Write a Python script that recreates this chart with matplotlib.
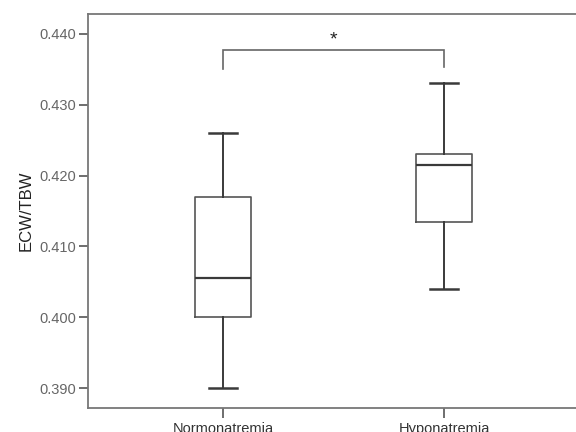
import matplotlib

matplotlib.use("Agg")
import matplotlib.pyplot as plt

plt.rcParams["font.family"] = ["Liberation Sans", "DejaVu Sans"]

# Box statistics
groups = ["Normonatremia", "Hyponatremia"]
whislo = [0.390, 0.404]
q1 = [0.400, 0.4134]
med = [0.4055, 0.4215]
q3 = [0.417, 0.423]
whishi = [0.426, 0.433]

yticks = [0.390, 0.400, 0.410, 0.420, 0.430, 0.440]
bracket_low = [0.4351, 0.4353]
bracket_top = 0.4377
sig_label = "*"

stats = []
for g, lo, a, m, b, hi in zip(groups, whislo, q1, med, q3, whishi):
    stats.append({"label": g, "whislo": lo, "q1": a, "med": m, "q3": b, "whishi": hi, "fliers": []})

fig = plt.figure(figsize=(5.76, 4.32), dpi=100)
ax = fig.add_axes([88 / 576, 1 - 408 / 432, (579 - 88) / 576, 394 / 432])

box_col = "#3a3a3a"
lw = 1.2
positions = [1, 2]
ax.bxp(
    stats,
    positions=positions,
    widths=0.25,
    showfliers=False,
    boxprops=dict(color="#555555", linewidth=lw),
    medianprops=dict(color=box_col, linewidth=1.6),
    whiskerprops=dict(color=box_col, linewidth=1.4),
    capprops=dict(color=box_col, linewidth=1.8),
    capwidths=0.125,
)

# significance bracket
ax.plot(
    [positions[0], positions[0], positions[1], positions[1]],
    [bracket_low[0], bracket_top, bracket_top, bracket_low[1]],
    color="#666666",
    linewidth=1.2,
    solid_joinstyle="miter",
)
ax.text(sum(positions) / 2, bracket_top + 0.0003, sig_label, ha="center", va="bottom",
        fontsize=14, color="#222222")

ax.set_xlim(0.389, 2.611)
ax.set_ylim(0.3872, 0.4428)
ax.set_xticks(positions)
ax.set_xticklabels(groups, fontsize=10.5, color="#333333")
ax.set_yticks(yticks)
ax.set_yticklabels([f"{v:.3f}" for v in yticks], fontsize=10.5, color="#666666")
ax.set_ylabel("ECW/TBW", fontsize=12, color="#222222", labelpad=4)

for side in ["left", "bottom", "top"]:
    ax.spines[side].set_color("#777777")
    ax.spines[side].set_linewidth(1.3)
ax.spines["right"].set_visible(False)
ax.tick_params(axis="y", direction="out", length=6.5, width=1.2, color="#555555", pad=2)
ax.tick_params(axis="x", direction="out", length=7, width=1.2, color="#555555", pad=3)

fig.savefig("out.png", dpi=100)
